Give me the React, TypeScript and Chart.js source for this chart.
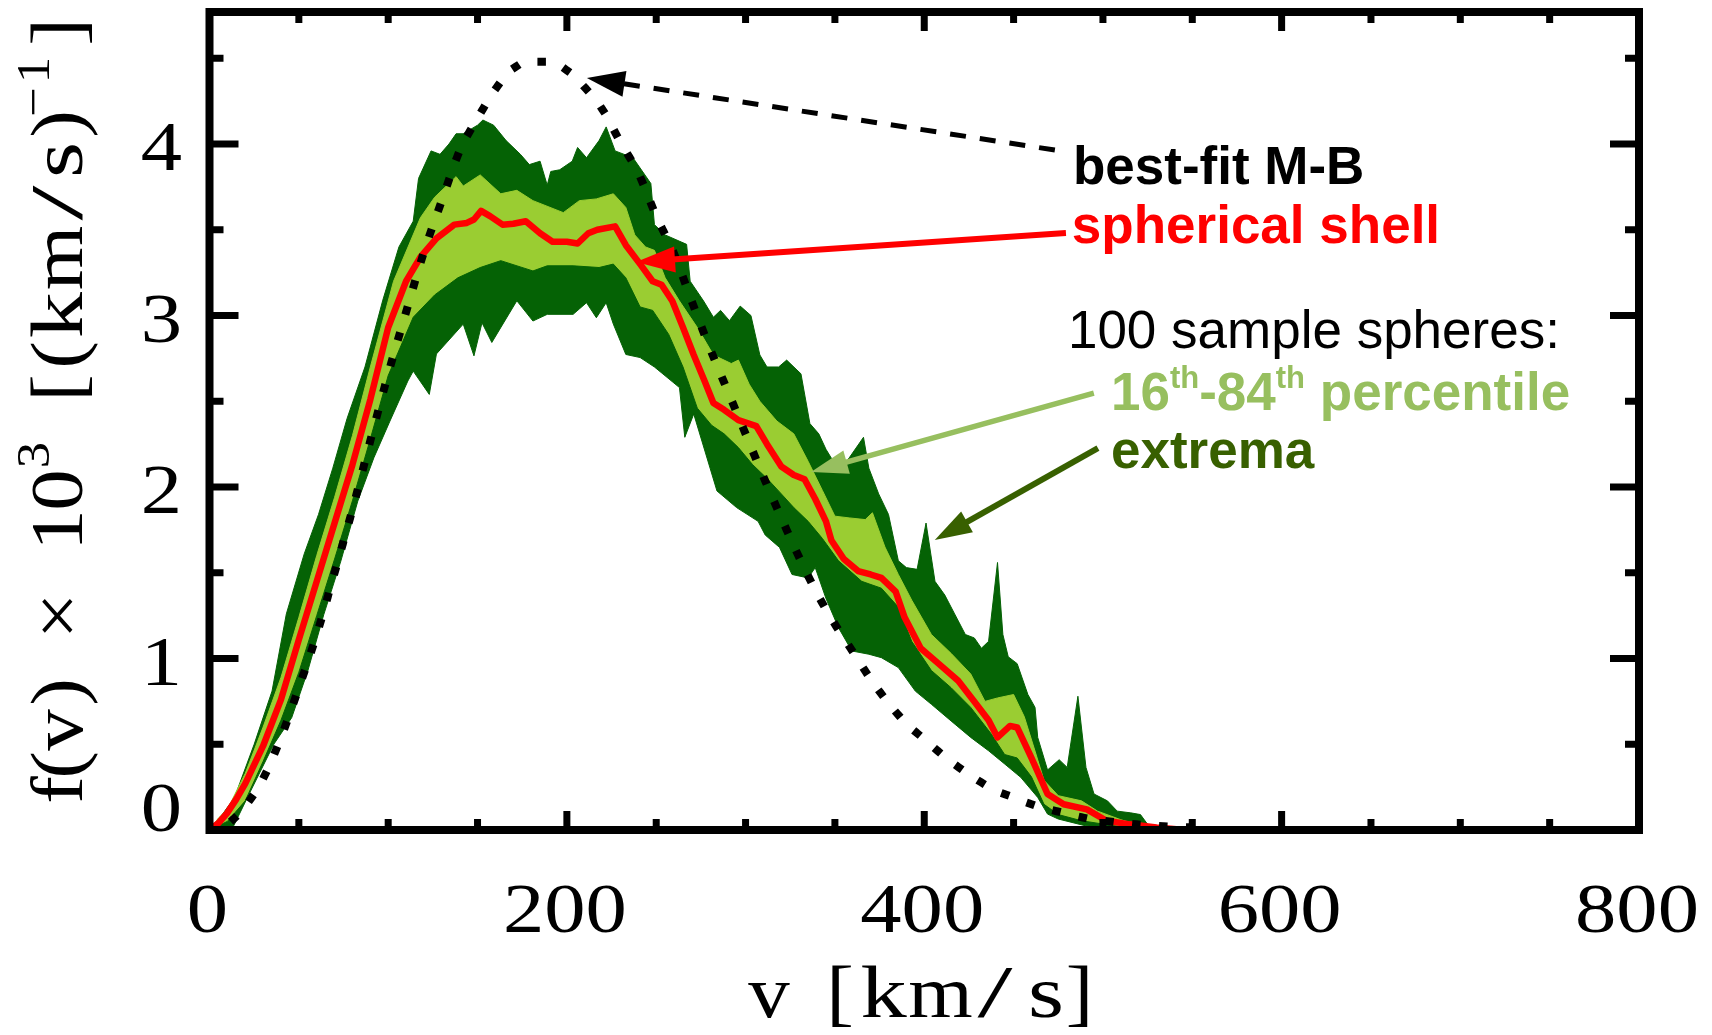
import React, { useEffect, useRef } from "react";
import { Chart, registerables } from "chart.js";

Chart.register(...registerables);

// ---------------- data (v in km/s, f(v) x 10^3) ----------------
// best-fit Maxwell-Boltzmann (dotted)
const mbV = [0, 10, 20, 30, 40, 50, 60, 70, 80, 90, 100, 110, 120, 130, 140, 150, 160, 170, 180, 190, 200, 210, 220, 230, 240, 250, 260, 270, 280, 290, 300, 310, 320, 330, 340, 350, 360, 370, 380, 390, 400, 410, 420, 430, 440, 450, 460, 470, 480, 490, 500, 510, 520, 530, 540, 550];
const mbF = [0, 0.035, 0.14, 0.3, 0.54, 0.83, 1.14, 1.5, 1.87, 2.27, 2.66, 3.02, 3.37, 3.67, 3.96, 4.15, 4.32, 4.44, 4.48, 4.48, 4.43, 4.33, 4.2, 4.01, 3.83, 3.58, 3.36, 3.08, 2.81, 2.56, 2.31, 2.06, 1.82, 1.59, 1.38, 1.2, 1.04, 0.88, 0.74, 0.62, 0.53, 0.44, 0.36, 0.29, 0.23, 0.19, 0.15, 0.12, 0.095, 0.07, 0.055, 0.042, 0.032, 0.024, 0.018, 0.015];

// spherical shell (red)
const shellV = [0, 5, 10, 15, 20, 30, 40, 50, 60, 70, 80, 90, 100, 110, 118, 127, 137, 144, 148, 152, 157, 164, 170, 177, 185, 192, 200, 206, 212, 217, 227, 233, 241, 248, 253, 259, 265, 271, 277, 282, 288, 296, 306, 312, 320, 327, 333, 339, 345, 348, 355, 363, 370, 376, 384, 389, 398, 408, 419, 428, 436, 441, 448, 452, 460, 469, 478, 491, 502, 515, 530, 541, 555];
const shellF = [0, 0.04, 0.1, 0.18, 0.27, 0.49, 0.76, 1.11, 1.45, 1.79, 2.13, 2.51, 2.93, 3.2, 3.34, 3.45, 3.53, 3.54, 3.56, 3.61, 3.58, 3.53, 3.535, 3.55, 3.48, 3.43, 3.43, 3.42, 3.48, 3.5, 3.52, 3.41, 3.3, 3.2, 3.18, 3.085, 2.93, 2.77, 2.62, 2.49, 2.45, 2.39, 2.355, 2.25, 2.12, 2.07, 2.045, 1.93, 1.8, 1.69, 1.58, 1.51, 1.49, 1.47, 1.39, 1.24, 1.06, 0.97, 0.87, 0.75, 0.64, 0.54, 0.607, 0.598, 0.42, 0.21, 0.15, 0.12, 0.054, 0.033, 0.015, 0.005, 0];

// 100 sample spheres: extrema (max / min)
const extHiV = [0, 3, 14, 25, 35, 43, 53, 61, 69, 77, 87, 97, 106, 114, 117, 124, 129, 134, 138, 142, 150, 153, 159, 166, 174, 179, 185, 189, 191, 196, 203, 206, 211, 218, 222, 227, 237, 247, 249, 255, 267, 269, 276.5, 282, 286, 291, 297, 303, 308, 312, 318.5, 323, 331, 336, 341, 345, 352, 358, 366, 369, 374.5, 380, 385.5, 390, 396, 401, 406, 411.5, 417, 423, 428, 432, 436, 441, 444, 447, 452, 458, 462, 463.5, 469, 475.5, 480, 486, 490.5, 495, 502.5, 508, 515.5, 521, 525, 530];
const extHiF = [0, 0.03, 0.19, 0.5, 0.81, 1.26, 1.61, 1.84, 2.11, 2.4, 2.7, 3.09, 3.4, 3.55, 3.8, 3.96, 3.94, 4.0, 4.06, 4.06, 4.11, 4.14, 4.11, 4.02, 3.94, 3.88, 3.9, 3.76, 3.84, 3.85, 3.9, 3.98, 3.92, 4.02, 4.1, 3.96, 3.92, 3.77, 3.53, 3.47, 3.415, 3.2, 3.085, 2.99, 3.03, 2.97, 3.055, 3.0, 2.77, 2.7, 2.7, 2.74, 2.66, 2.37, 2.31, 2.22, 2.1, 2.17, 2.29, 2.11, 1.96, 1.84, 1.57, 1.53, 1.52, 1.79, 1.45, 1.37, 1.26, 1.14, 1.12, 1.06, 1.1, 1.56, 1.14, 1.01, 0.97, 0.79, 0.715, 0.54, 0.35, 0.41, 0.365, 0.78, 0.365, 0.21, 0.17, 0.11, 0.1, 0.09, 0.033, 0];
const extLoV = [0, 13, 23, 36, 46, 55, 64, 73.5, 83, 92, 101, 111, 114, 123, 127, 142, 148, 152.5, 158, 172, 181, 189, 203.5, 211, 216.5, 222, 226, 233, 241, 249, 263, 266, 271, 284, 295, 307, 311, 319, 326, 335, 339, 345, 352, 359.5, 369, 376, 385.5, 395, 404, 415, 426, 436, 445, 454, 463.5, 469, 475, 490, 506, 520];
const extLoF = [0, 0.013, 0.227, 0.5, 0.655, 0.927, 1.258, 1.568, 1.918, 2.171, 2.385, 2.618, 2.676, 2.54, 2.776, 2.95, 2.765, 2.958, 2.843, 3.086, 2.968, 3.007, 3.007, 3.075, 2.987, 3.075, 2.95, 2.773, 2.755, 2.7, 2.58, 2.29, 2.426, 1.977, 1.88, 1.8, 1.72, 1.648, 1.49, 1.47, 1.53, 1.35, 1.18, 1.044, 1.025, 1.005, 0.947, 0.81, 0.733, 0.636, 0.54, 0.462, 0.385, 0.307, 0.19, 0.093, 0.064, 0.025, 0.015, 0];

// 100 sample spheres: 84th / 16th percentile
const pctHiV = [0, 5, 10, 20, 30, 40, 50, 60, 70, 80, 90, 103, 118, 126, 138, 142, 151.5, 163, 172, 181, 198, 207, 216.5, 226, 233, 238, 244, 249, 255, 263, 273, 282, 292, 296, 302, 308, 317.5, 327, 335, 343, 350, 358, 367, 371, 378, 385.5, 393, 404, 415, 426, 434, 441, 450, 456, 462, 467, 475, 488, 497, 510, 530];
const pctHiF = [0, 0.07, 0.12, 0.33, 0.6, 0.89, 1.24, 1.6, 1.94, 2.3, 2.7, 3.2, 3.57, 3.69, 3.81, 3.755, 3.82, 3.71, 3.73, 3.67, 3.6, 3.67, 3.68, 3.71, 3.63, 3.47, 3.4, 3.38, 3.22, 3.085, 2.93, 2.77, 2.72, 2.74, 2.6, 2.5, 2.385, 2.31, 2.15, 1.98, 1.83, 1.82, 1.81, 1.85, 1.65, 1.49, 1.34, 1.14, 1.03, 0.91, 0.75, 0.77, 0.79, 0.66, 0.46, 0.29, 0.2, 0.17, 0.11, 0.06, 0];
const pctLoV = [0, 10, 20, 30, 40, 50, 60, 70, 80, 90, 100, 114, 126, 139, 151.5, 163, 181, 189, 203.5, 218, 226, 233, 241, 248, 257, 265, 273, 281, 288, 296, 304, 312, 320, 327, 335, 343, 352, 365, 376, 385.5, 393, 404, 415, 426, 437.5, 445, 452, 460, 467, 475, 488, 506, 525];
const pctLoF = [0, 0.05, 0.17, 0.4, 0.64, 0.92, 1.25, 1.58, 1.92, 2.28, 2.65, 2.99, 3.12, 3.22, 3.28, 3.32, 3.26, 3.29, 3.29, 3.28, 3.3, 3.22, 3.05, 3.03, 2.89, 2.7, 2.46, 2.36, 2.31, 2.23, 2.13, 2.05, 1.96, 1.88, 1.8, 1.7, 1.57, 1.45, 1.41, 1.3, 1.1, 0.93, 0.83, 0.715, 0.56, 0.44, 0.42, 0.31, 0.15, 0.09, 0.054, 0.025, 0];

// tick labels
const xTickLabels = [0, 200, 400, 600, 800];
const yTickLabels = [0, 1, 2, 3, 4];

// axis ranges
const X_MIN = 0;
const X_MAX = 800;
const Y_MIN = 0;
const Y_MAX = 4.77;

// ---------------- styles ----------------
const DARK = "#056205";
const LIGHT = "#9ACD32";
const RED = "#FF0000";
const PALE = "#97BF5F";
const OLIVE = "#386000";
const SERIF = '"Liberation Serif", "Times New Roman", serif';
const SANS = '"Liberation Sans", Arial, sans-serif';

const pts = (vs: number[], fs: number[]) => vs.map((x, i) => ({ x, y: fs[i] }));

// title glyph placement (page pixels): [char, centre along axis, superscript]
const yTitleGlyphs: [string, number, boolean][] = [
  ["f", 790, false], ["(", 765, false], ["v", 730, false], [")", 692, false],
  ["\u00D7", 616, false], ["1", 530, false], ["0", 490, false], ["3", 455, true],
  ["[", 388, false], ["(", 355, false], ["k", 315, false], ["m", 258, false],
  ["/", 203, false], ["s", 160, false], [")", 124, false], ["\u2212", 102, true],
  ["1", 70, true], ["]", 32, false],
];
const xTitleGlyphs: [string, number][] = [
  ["v", 769], ["[", 840], ["k", 883.5], ["m", 940.5], ["/", 995], ["s", 1046], ["]", 1079.5],
];
const glyphStretch = (ch: string) => (ch === "/" ? 1.7 : ch === "k" || ch === "s" ? 1.25 : 1.12);

function drawArrow(
  ctx: CanvasRenderingContext2D,
  x1: number, y1: number, x2: number, y2: number,
  color: string, width: number, headLen: number, headHalf: number, dash: number[]
) {
  const a = Math.atan2(y2 - y1, x2 - x1);
  const c = Math.cos(a), s = Math.sin(a);
  const bx = x2 - headLen * c, by = y2 - headLen * s;
  ctx.save();
  ctx.strokeStyle = color;
  ctx.lineWidth = width;
  ctx.lineCap = "butt";
  ctx.setLineDash(dash);
  ctx.beginPath();
  ctx.moveTo(x1, y1);
  ctx.lineTo(bx + 3 * c, by + 3 * s);
  ctx.stroke();
  ctx.setLineDash([]);
  ctx.fillStyle = color;
  ctx.beginPath();
  ctx.moveTo(x2, y2);
  ctx.lineTo(bx + headHalf * s, by - headHalf * c);
  ctx.lineTo(bx - headHalf * s, by + headHalf * c);
  ctx.closePath();
  ctx.fill();
  ctx.restore();
}

const overlayPlugin = {
  id: "overlay",
  afterDraw(chart: any) {
    const { ctx, chartArea: a, scales } = chart;
    const X = (v: number) => scales.x.getPixelForValue(v);
    const Y = (f: number) => scales.y.getPixelForValue(f);
    ctx.save();

    // frame
    ctx.strokeStyle = "#000";
    ctx.lineWidth = 8;
    ctx.lineJoin = "miter";
    ctx.strokeRect(a.left, a.top, a.right - a.left, a.bottom - a.top);

    // inward ticks
    ctx.lineWidth = 7;
    ctx.lineCap = "butt";
    ctx.beginPath();
    for (let v = 50; v < X_MAX; v += 50) {
      const len = (v % 200 === 0 ? 15 : 7) + 4;
      const px = X(v);
      ctx.moveTo(px, a.bottom); ctx.lineTo(px, a.bottom - len);
      ctx.moveTo(px, a.top); ctx.lineTo(px, a.top + len);
    }
    for (let f = 0.5; f < Y_MAX; f += 0.5) {
      const len = (Math.abs(f - Math.round(f)) < 1e-6 ? 25 : 10) + 4;
      const py = Y(f);
      ctx.moveTo(a.left, py); ctx.lineTo(a.left + len, py);
      ctx.moveTo(a.right, py); ctx.lineTo(a.right - len, py);
    }
    ctx.stroke();

    // tick labels
    ctx.fillStyle = "#000";
    ctx.font = `70px ${SERIF}`;
    ctx.textBaseline = "alphabetic";
    for (const v of xTickLabels) {
      ctx.save();
      ctx.translate(X(v) - 2, 932);
      ctx.scale(1.18, 1);
      ctx.textAlign = "center";
      ctx.fillText(String(v), 0, 0);
      ctx.restore();
    }
    for (const f of yTickLabels) {
      ctx.save();
      ctx.translate(182, f === 0 ? Y(f) + 1 : Y(f) + 26);
      ctx.scale(1.18, 1);
      ctx.textAlign = "right";
      ctx.fillText(String(f), 0, 0);
      ctx.restore();
    }

    // axis titles
    for (const [ch, cx] of xTitleGlyphs) {
      ctx.save();
      ctx.font = `74px ${SERIF}`;
      ctx.translate(cx, 1017);
      ctx.scale(glyphStretch(ch), 1);
      ctx.textAlign = "center";
      ctx.fillText(ch, 0, 0);
      ctx.restore();
    }
    for (const [ch, cy, sup] of yTitleGlyphs) {
      ctx.save();
      ctx.font = sup ? `47px ${SERIF}` : `74px ${SERIF}`;
      ctx.translate(sup ? 49 : 82, cy);
      ctx.rotate(-Math.PI / 2);
      ctx.scale(sup ? 1.12 : glyphStretch(ch), 1);
      ctx.textAlign = "center";
      ctx.fillText(ch, 0, 0);
      ctx.restore();
    }

    // annotation arrows (data coordinates)
    drawArrow(ctx, X(473.1), Y(3.965), X(211.2), Y(4.385), "#000", 5, 38, 13, [16, 14]);
    drawArrow(ctx, X(479.3), Y(3.481), X(238.7), Y(3.312), RED, 6, 39, 13, []);
    drawArrow(ctx, X(494.9), Y(2.548), X(336.6), Y(2.087), PALE, 5.5, 37, 12, []);
    drawArrow(ctx, X(497.2), Y(2.227), X(405.9), Y(1.691), OLIVE, 6, 37, 12, []);

    // annotation texts
    ctx.textAlign = "left";
    ctx.textBaseline = "alphabetic";
    ctx.font = `bold 53px ${SANS}`;
    ctx.fillStyle = "#000";
    ctx.fillText("best-fit M-B", X(483.2), Y(3.767));
    ctx.fillStyle = RED;
    ctx.fillText("spherical shell", X(482.6), Y(3.423));
    ctx.font = `53px ${SANS}`;
    ctx.fillStyle = "#000";
    ctx.fillText("100 sample spheres:", X(480.4), Y(2.811));

    ctx.fillStyle = PALE;
    let tx = X(504.5);
    const ty = Y(2.449);
    const parts: [string, boolean][] = [["16", false], ["th", true], ["-84", false], ["th", true], [" percentile", false]];
    for (const [t, sup] of parts) {
      ctx.font = sup ? `bold 31px ${SANS}` : `bold 53px ${SANS}`;
      ctx.fillText(t, tx, sup ? ty - 22 : ty);
      tx += ctx.measureText(t).width;
    }
    ctx.font = `bold 53px ${SANS}`;
    ctx.fillStyle = OLIVE;
    ctx.fillText("extrema", X(504.5), Y(2.111));

    ctx.restore();
  },
};

export default function App() {
  const ref = useRef<HTMLCanvasElement | null>(null);

  useEffect(() => {
    const canvas = ref.current;
    if (!canvas) return;
    const fillSet = (label: string, data: any[], color: string, border: string, order: number) => ({
      label,
      data,
      order,
      fill: "origin",
      backgroundColor: color,
      borderColor: border,
      borderWidth: 1,
      pointRadius: 0,
      tension: 0,
    });
    const chart = new Chart(canvas, {
      type: "line",
      data: {
        datasets: [
          fillSet("extrema max", pts(extHiV, extHiF), DARK, DARK, 6) as any,
          fillSet("84th percentile", pts(pctHiV, pctHiF), LIGHT, LIGHT, 5) as any,
          fillSet("16th percentile", pts(pctLoV, pctLoF), DARK, DARK, 4) as any,
          fillSet("extrema min", pts(extLoV, extLoF), "#FFFFFF", DARK, 3) as any,
          {
            label: "spherical shell",
            data: pts(shellV, shellF),
            order: 2,
            fill: false,
            borderColor: RED,
            borderWidth: 6.5,
            borderJoinStyle: "round",
            borderCapStyle: "round",
            pointRadius: 0,
            tension: 0,
          } as any,
          {
            label: "best-fit M-B",
            data: pts(mbV, mbF),
            order: 1,
            fill: false,
            borderColor: "#000",
            borderWidth: 8,
            borderDash: [0.5, 26.5],
            borderCapStyle: "square",
            pointRadius: 0,
            cubicInterpolationMode: "monotone",
          } as any,
        ],
      },
      options: {
        responsive: false,
        maintainAspectRatio: false,
        animation: false,
        devicePixelRatio: 1,
        events: [],
        layout: { padding: { left: 0, right: 73, top: 12, bottom: 0 } },
        plugins: {
          legend: { display: false },
          tooltip: { enabled: false },
        },
        scales: {
          x: {
            type: "linear",
            min: X_MIN,
            max: X_MAX,
            ticks: { display: false },
            grid: { display: false },
            border: { display: false },
            afterFit: (s: any) => { s.height = 205; },
          },
          y: {
            type: "linear",
            min: Y_MIN,
            max: Y_MAX,
            ticks: { display: false },
            grid: { display: false },
            border: { display: false },
            afterFit: (s: any) => { s.width = 209.5; },
          },
        },
      },
      plugins: [overlayPlugin],
    } as any);
    return () => chart.destroy();
  }, []);

  return (
    <div style={{ position: "absolute", left: 0, top: 0, width: 1712, height: 1035, background: "#fff" }}>
      <canvas ref={ref} width={1712} height={1035} style={{ display: "block", width: 1712, height: 1035 }} />
    </div>
  );
}
